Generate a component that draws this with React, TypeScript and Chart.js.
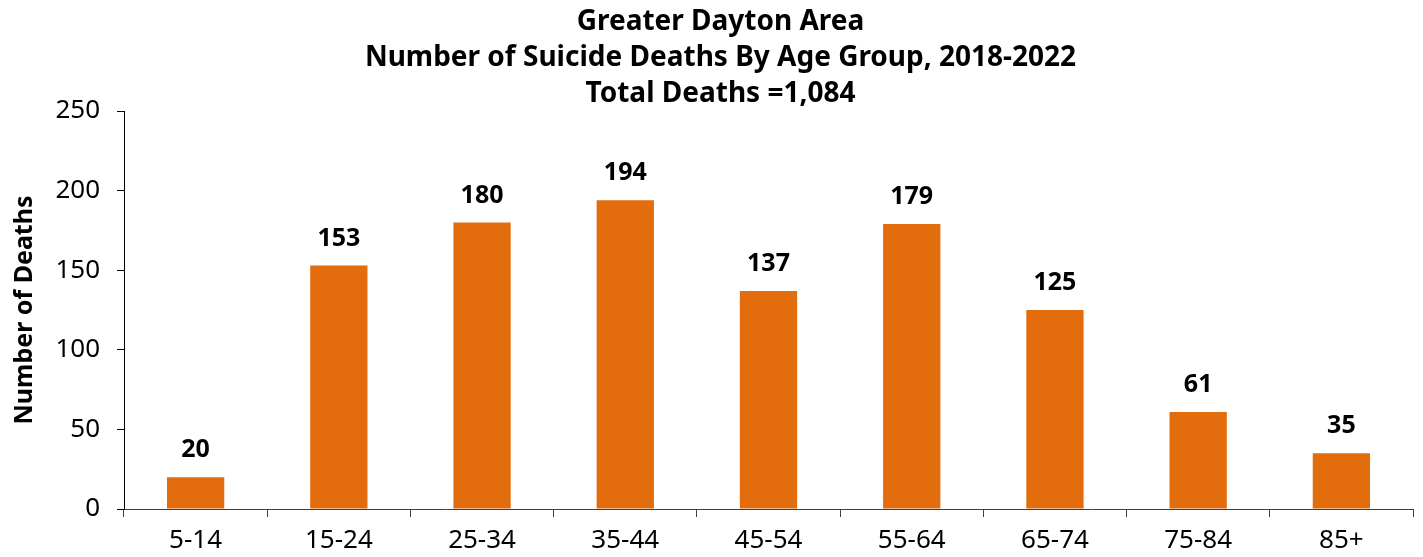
import React, { useEffect, useRef } from "react";
import { Chart, registerables } from "chart.js";

Chart.register(...registerables);

const categories = ["5-14", "15-24", "25-34", "35-44", "45-54", "55-64", "65-74", "75-84", "85+"];
const deaths = [20, 153, 180, 194, 137, 179, 125, 61, 35];
const titleLines = [
  "Greater Dayton Area",
  "Number of Suicide Deaths By Age Group, 2018-2022",
  "Total Deaths =1,084",
];
const yAxisTitle = "Number of Deaths";

const FONT = "'Noto Sans', 'Open Sans', sans-serif";
const BAR_COLOR = "#E36C0C";

const valueLabels = {
  id: "valueLabels",
  afterDatasetsDraw(chart: any) {
    const ctx = chart.ctx;
    const meta = chart.getDatasetMeta(0);
    ctx.save();
    ctx.font = `bold 25px ${FONT}`;
    ctx.fillStyle = "#000";
    ctx.textAlign = "center";
    ctx.textBaseline = "middle";
    meta.data.forEach((el: any, i: number) => {
      ctx.fillText(String(chart.data.datasets[0].data[i]), el.x, el.y - 27);
    });
    ctx.restore();
  },
};

export default function App() {
  const ref = useRef<HTMLCanvasElement>(null);
  useEffect(() => {
    if (!ref.current) return;
    const chart = new Chart(ref.current, {
      type: "bar",
      data: {
        labels: categories,
        datasets: [
          {
            data: deaths,
            backgroundColor: BAR_COLOR,
            borderWidth: 0,
            barPercentage: 0.4,
            categoryPercentage: 1,
          },
        ],
      },
      options: {
        responsive: false,
        animation: false,
        devicePixelRatio: 1,
        layout: { padding: { left: 28, right: 62, top: 4, bottom: 0 } },
        plugins: {
          legend: { display: false },
          tooltip: { enabled: false },
          title: {
            display: true,
            text: titleLines,
            color: "#000",
            font: { family: FONT, size: 28, weight: "bold", lineHeight: "36px" },
            padding: { top: 0, bottom: -1 },
          },
        },
        scales: {
          x: {
            afterFit: (s: any) => {
              s.height = 48;
            },
            grid: {
              display: true,
              offset: true,
              drawOnChartArea: false,
              drawTicks: true,
              tickLength: 8,
              color: "#404040",
            },
            border: { display: true, color: "#404040", width: 1 },
            ticks: {
              color: "#000",
              padding: 8,
              font: { family: FONT, size: 26 },
            },
          },
          y: {
            min: 0,
            max: 250,
            afterFit: (s: any) => {
              s.width = 96;
            },
            grid: {
              display: true,
              drawOnChartArea: false,
              drawTicks: true,
              tickLength: 7,
              color: "#000",
            },
            border: { display: true, color: "#000", width: 1 },
            ticks: {
              stepSize: 50,
              color: "#000",
              padding: 17,
              font: { family: FONT, size: 26 },
            },
            title: {
              display: true,
              text: yAxisTitle,
              color: "#000",
              font: { family: FONT, size: 25, weight: "bold" },
              padding: { top: -18, bottom: 0 },
            },
          },
        },
      },
      plugins: [valueLabels],
    });
    return () => chart.destroy();
  }, []);

  return (
    <div
      style={{
        position: "fixed",
        left: 0,
        top: 0,
        width: 1423,
        height: 557,
        overflow: "hidden",
        background: "#fff",
      }}
    >
      <canvas ref={ref} width={1475} height={557} style={{ display: "block" }} />
    </div>
  );
}
